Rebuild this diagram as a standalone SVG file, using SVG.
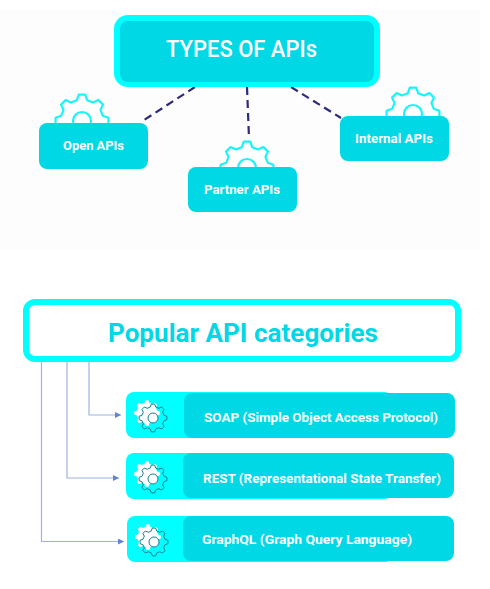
<svg xmlns="http://www.w3.org/2000/svg" xmlns:xlink="http://www.w3.org/1999/xlink" width="490" height="589" viewBox="0 0 490 589">
<style>
text{font-family:"Roboto","Liberation Sans",sans-serif;text-anchor:start}
.w{fill:#fdfeff;font-weight:700;font-size:13px}
.teal{fill:#00d8e6}
.cy{fill:#00ffff}
.dash{stroke:#2d2a7a;stroke-width:2.2;stroke-dasharray:8 5;fill:none}
.conn{stroke:#9db4e4;stroke-width:1.2;fill:none}
</style>
<defs>
<path id="gear" d="M1.71-13.9L2.73-10.96L5.82-9.69L8.62-11.03L11.03-8.62L9.69-5.82L10.96-2.73L13.9-1.71L13.9 1.71L10.96 2.73L9.69 5.82L11.03 8.62L8.62 11.03L5.82 9.69L2.73 10.96L1.71 13.9L-1.71 13.9L-2.73 10.96L-5.82 9.69L-8.62 11.03L-11.03 8.62L-9.69 5.82L-10.96 2.73L-13.9 1.71L-13.9-1.71L-10.96-2.73L-9.69-5.82L-11.03-8.62L-8.62-11.03L-5.82-9.69L-2.73-10.96L-1.71-13.9Z" stroke-linejoin="round"/>
<g id="bigGear"><use xlink:href="#gear" transform="scale(1.9)" fill="#fff" stroke="#19f4fb" stroke-width="1.15"/><circle r="9" fill="#fff" stroke="#19f4fb" stroke-width="2.2"/></g>
<g id="smallGear"><use xlink:href="#gear" transform="translate(-6,-5) scale(.92)" fill="#fff"/><use xlink:href="#gear" fill="none" stroke="#12808f" stroke-width="1"/><circle r="5" fill="#fff" stroke="#12808f" stroke-width="1"/></g>
<marker id="arrow" markerWidth="8" markerHeight="8" refX="6" refY="3" orient="auto" markerUnits="userSpaceOnUse"><path d="M0 0L6 3L0 6Z" fill="#5f84d0"/></marker>
</defs>
<rect width="490" height="589" fill="#fff"/>
<rect x="0" y="10" width="480" height="240" fill="#fdfdfe"/>
<g id="connectors">
<path class="dash" d="M195 87L141 122"/>
<path class="dash" d="M247 87L249 138"/>
<path class="dash" d="M291 87L341 118"/>
<path class="conn" d="M89 362V415H121" marker-end="url(#arrow)"/>
<path class="conn" d="M67 362V478H119" marker-end="url(#arrow)"/>
<path class="conn" d="M41.5 362V541.5H124" marker-end="url(#arrow)"/>
</g>
<g id="types">
<rect class="cy" x="114" y="15" width="266" height="72" rx="14"/>
<rect class="teal" x="120" y="21" width="254" height="61" rx="8"/>
<text x="166" y="57" font-size="23" font-weight="500" fill="#fff" textLength="151" lengthAdjust="spacingAndGlyphs">TYPES OF APIs</text>
</g>
<g id="open">
<use xlink:href="#bigGear" x="82" y="121"/>
<rect class="teal" x="39" y="123" width="109" height="46" rx="8"/>
<text class="w" x="63" y="150" textLength="61" lengthAdjust="spacingAndGlyphs">Open APIs</text>
</g>
<g id="partner">
<use xlink:href="#bigGear" x="247" y="168"/>
<rect class="teal" x="188" y="167" width="109" height="45" rx="8"/>
<text class="w" x="204" y="194" textLength="76" lengthAdjust="spacingAndGlyphs">Partner APIs</text>
</g>
<g id="internal">
<use xlink:href="#bigGear" x="413" y="114"/>
<rect class="teal" x="340" y="116" width="109" height="45" rx="8"/>
<text class="w" x="355" y="143" textLength="78" lengthAdjust="spacingAndGlyphs">Internal APIs</text>
</g>
<g id="popular">
<rect x="26" y="302" width="432" height="57" rx="9" fill="#fff" stroke="#00ffff" stroke-width="6"/>
<text x="108" y="342" font-size="25" font-weight="700" fill="#00d8e6" textLength="270" lengthAdjust="spacingAndGlyphs">Popular API categories</text>
</g>
<g id="soap">
<rect class="cy" x="126" y="392" width="266" height="46" rx="8"/>
<rect class="teal" x="184" y="393" width="271" height="45" rx="8"/>
<use xlink:href="#smallGear" x="153" y="418"/>
<text class="w" x="204" y="422" textLength="234" lengthAdjust="spacingAndGlyphs">SOAP (Simple Object Access Protocol)</text>
</g>
<g id="rest">
<rect class="cy" x="126" y="453" width="266" height="46" rx="8"/>
<rect class="teal" x="183" y="453" width="271" height="45" rx="8"/>
<use xlink:href="#smallGear" x="153" y="479"/>
<text class="w" x="203" y="483" textLength="238" lengthAdjust="spacingAndGlyphs">REST (Representational State Transfer)</text>
</g>
<g id="graphql">
<rect class="cy" x="127" y="516" width="266" height="46" rx="8"/>
<rect class="teal" x="183" y="516" width="271" height="45" rx="8"/>
<use xlink:href="#smallGear" x="154" y="542"/>
<text class="w" x="202" y="544" textLength="210" lengthAdjust="spacingAndGlyphs">GraphQL (Graph Query Language)</text>
</g>
</svg>
